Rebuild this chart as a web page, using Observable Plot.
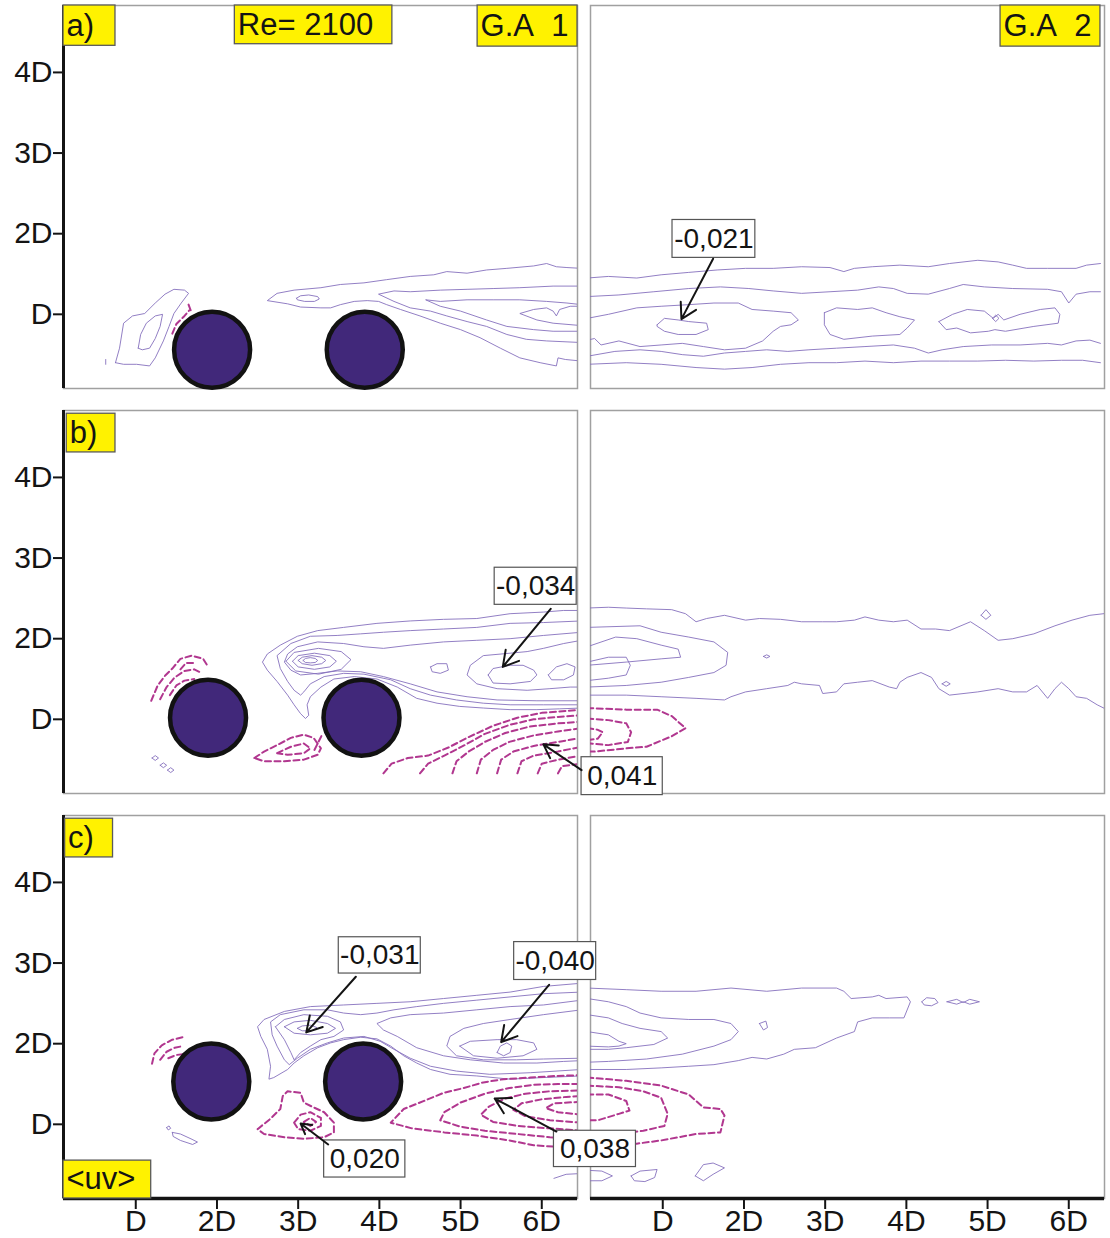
<!DOCTYPE html>
<html><head><meta charset="utf-8">
<script src="https://cdn.jsdelivr.net/npm/d3@7"></script>
<script src="https://cdn.jsdelivr.net/npm/@observablehq/plot@0.6"></script>
<style>
html,body{margin:0;padding:0;background:#fff;}
#chart{width:1110px;height:1238px;}
</style></head><body><div id="chart"></div>
<script>
// ---------------- DATA (positions in cylinder diameters D) ----------------
const tickValues = [1, 2, 3, 4, 5, 6];
const tickLabels = ["D", "2D", "3D", "4D", "5D", "6D"];
const yTickValues = [1, 2, 3, 4];
const rowKeys = ["a", "b", "c"];

// cylinders (left column, one row per configuration)
const cylinderX1 = [1.94, 1.89, 1.93];
const cylinderX2 = [3.82, 3.78, 3.80];
const cylinderY = [0.56, 1.02, 1.53];

// ---- row a, G.A 1 ----
const solidA1 = [
  [[0.75,0.40],[0.80,0.58],[0.85,0.89],[0.96,0.98],[1.11,1.01],[1.24,1.14],[1.36,1.25],[1.47,1.31],[1.60,1.30],[1.65,1.26],[1.56,1.14],[1.47,1.01],[1.41,0.85],[1.34,0.67],[1.24,0.46],[1.17,0.36],[1.01,0.38],[0.85,0.38],[0.75,0.40]],
  [[1.03,0.58],[1.06,0.75],[1.13,0.89],[1.24,0.98],[1.33,1.00],[1.30,0.85],[1.24,0.70],[1.17,0.58],[1.08,0.56],[1.03,0.58]],
  [[0.63,0.38],[0.63,0.44]],
  [[6.49,1.57],[6.31,1.58],[6.18,1.59],[6.06,1.63],[5.90,1.60],[5.57,1.57],[5.32,1.55],[5.08,1.51],[4.83,1.53],[4.67,1.49],[4.38,1.47],[4.09,1.43],[3.81,1.39],[3.52,1.37],[3.28,1.33],[2.95,1.30],[2.74,1.26],[2.62,1.17],[2.87,1.13],[3.03,1.09],[3.28,1.08],[3.40,1.08],[3.52,1.12],[3.69,1.16],[3.85,1.17],[3.99,1.16],[4.09,1.12],[4.26,1.06],[4.50,0.98],[4.75,0.89],[5.00,0.81],[5.24,0.71],[5.49,0.58],[5.73,0.46],[5.98,0.40],[6.18,0.36],[6.20,0.46],[6.29,0.44],[6.49,0.42]],
  [[6.49,1.35],[6.14,1.35],[5.73,1.33],[5.41,1.32],[5.08,1.31],[4.75,1.30],[4.38,1.28],[4.18,1.29],[3.99,1.25],[4.18,1.16],[4.38,1.08],[4.63,1.04],[4.83,0.98],[5.08,0.91],[5.32,0.85],[5.57,0.75],[5.81,0.69],[6.06,0.67],[6.49,0.65]],
  [[6.49,1.12],[6.31,1.14],[6.06,1.16],[5.73,1.18],[5.41,1.18],[5.08,1.18],[4.75,1.16],[4.57,1.18],[4.75,1.10],[5.00,1.04],[5.32,0.93],[5.57,0.85],[5.90,0.81],[6.14,0.79],[6.49,0.79]],
  [[6.49,1.10],[6.35,1.10],[6.22,1.06],[6.18,0.98],[6.14,1.04],[6.06,1.08],[5.90,1.06],[5.73,1.01],[5.94,0.93],[6.14,0.89],[6.49,0.86]],
  [[2.98,1.20],[3.03,1.23],[3.13,1.24],[3.24,1.22],[3.26,1.19],[3.20,1.16],[3.08,1.16],[2.99,1.18],[2.98,1.20]]
];
const dashedA1 = [
  [[1.45,0.76],[1.50,0.88],[1.60,0.98],[1.66,1.05]],
  [[1.53,0.78],[1.58,0.88],[1.66,0.94]],
  [[1.65,1.12],[1.68,1.04]]
];
// ---- row a, G.A 2 ----
const solidA2 = [
  [[0.07,1.45],[0.33,1.47],[0.68,1.45],[0.98,1.49],[1.32,1.52],[1.67,1.55],[2.02,1.57],[2.36,1.57],[2.71,1.59],[3.06,1.58],[3.23,1.53],[3.36,1.57],[3.58,1.59],[3.92,1.61],[4.27,1.59],[4.53,1.63],[4.88,1.67],[5.13,1.65],[5.31,1.61],[5.48,1.57],[5.74,1.57],[6.09,1.57],[6.22,1.61],[6.39,1.63]],
  [[0.07,1.22],[0.46,1.24],[0.89,1.28],[1.32,1.32],[1.71,1.34],[2.06,1.32],[2.36,1.29],[2.71,1.26],[3.06,1.28],[3.40,1.30],[3.66,1.34],[3.84,1.32],[4.01,1.26],[4.27,1.25],[4.53,1.32],[4.70,1.37],[4.96,1.34],[5.31,1.32],[5.74,1.31],[5.91,1.28],[6.00,1.14],[6.09,1.25],[6.26,1.28],[6.39,1.28]],
  [[0.07,0.95],[0.33,1.00],[0.68,1.08],[0.98,1.10],[1.32,1.12],[1.63,1.14],[1.93,1.14],[2.10,1.06],[2.36,1.04],[2.58,1.02],[2.67,0.93],[2.58,0.87],[2.45,0.85],[2.36,0.79],[2.23,0.67],[2.02,0.58],[1.76,0.56],[1.50,0.60],[1.24,0.64],[0.98,0.62],[0.72,0.60],[0.46,0.67],[0.24,0.62],[0.16,0.70],[0.07,0.68]],
  [[0.93,0.87],[1.02,0.95],[1.19,0.93],[1.32,0.91],[1.54,0.89],[1.56,0.81],[1.41,0.75],[1.19,0.75],[1.02,0.79],[0.93,0.85],[0.93,0.87]],
  [[2.99,1.02],[3.14,1.08],[3.40,1.06],[3.58,1.08],[3.75,1.02],[3.92,0.97],[4.10,0.93],[4.01,0.83],[3.92,0.75],[3.58,0.73],[3.23,0.69],[3.06,0.75],[2.99,0.87],[2.99,1.02]],
  [[4.40,0.91],[4.57,1.00],[4.75,1.06],[4.96,1.04],[5.07,0.95],[5.13,1.00],[5.20,0.93],[5.40,1.00],[5.65,1.06],[5.83,1.08],[5.89,1.00],[5.87,0.89],[5.57,0.85],[5.22,0.79],[5.09,0.81],[5.01,0.79],[4.79,0.77],[4.62,0.83],[4.49,0.81],[4.40,0.91]],
  [[5.06,0.95],[5.10,0.99],[5.14,0.95],[5.10,0.91],[5.06,0.95]],
  [[0.07,0.48],[0.41,0.54],[0.72,0.56],[0.98,0.54],[1.24,0.50],[1.50,0.48],[1.76,0.52],[2.02,0.54],[2.28,0.56],[2.54,0.54],[2.80,0.56],[3.14,0.58],[3.49,0.60],[3.84,0.62],[4.10,0.58],[4.27,0.52],[4.44,0.56],[4.70,0.60],[5.05,0.62],[5.40,0.62],[5.74,0.64],[5.91,0.62],[6.09,0.67],[6.26,0.68],[6.39,0.64]],
  [[0.07,0.38],[0.55,0.40],[0.98,0.38],[1.41,0.34],[1.76,0.32],[2.10,0.34],[2.45,0.38],[2.80,0.40],[3.14,0.40],[3.49,0.42],[3.84,0.40],[4.18,0.42],[4.53,0.42],[4.88,0.42],[5.22,0.43],[5.57,0.42],[5.91,0.43],[6.17,0.43],[6.39,0.40]]
];
const dashedA2 = [];

// ---- row b, G.A 1 ----
const solidB1 = [
  [[6.49,2.35],[6.27,2.35],[6.02,2.33],[5.61,2.31],[5.20,2.25],[4.79,2.24],[4.38,2.22],[3.97,2.19],[3.56,2.14],[3.24,2.10],[2.99,2.03],[2.78,1.92],[2.62,1.81],[2.56,1.71],[2.62,1.61],[2.74,1.47],[2.87,1.30],[2.95,1.18],[3.03,1.07],[3.09,1.01],[3.13,1.05],[3.11,1.18],[3.15,1.28],[3.28,1.40],[3.44,1.50],[3.69,1.53],[3.97,1.50],[4.22,1.40],[4.46,1.26],[4.71,1.20],[4.99,1.16],[5.28,1.14],[5.61,1.12],[5.94,1.12],[6.22,1.13],[6.49,1.14]],
  [[6.49,2.22],[6.02,2.20],[5.61,2.19],[5.20,2.14],[4.79,2.12],[4.38,2.10],[4.05,2.08],[3.77,2.06],[3.48,2.04],[3.15,2.03],[2.91,1.94],[2.74,1.79],[2.78,1.63],[2.87,1.47],[2.95,1.36],[3.03,1.30],[3.07,1.34],[3.15,1.44],[3.32,1.53],[3.56,1.57],[3.81,1.56],[4.14,1.49],[4.38,1.38],[4.63,1.30],[4.95,1.24],[5.28,1.20],[5.61,1.18],[6.02,1.18],[6.49,1.18]],
  [[6.49,2.08],[6.02,2.04],[5.61,2.00],[5.20,1.98],[4.79,1.96],[4.38,1.92],[4.05,1.88],[3.81,1.90],[3.56,1.94],[3.24,1.96],[2.99,1.90],[2.87,1.81],[2.83,1.71],[2.91,1.61],[3.03,1.55],[3.24,1.57],[3.48,1.60],[3.77,1.59],[4.05,1.53],[4.38,1.44],[4.71,1.34],[5.08,1.28],[5.45,1.24],[5.94,1.23],[6.49,1.23]],
  [[6.49,1.98],[6.27,1.94],[6.02,1.88],[5.82,1.84],[5.61,1.82],[5.28,1.79],[5.12,1.67],[5.08,1.55],[5.20,1.44],[5.45,1.38],[5.82,1.36],[6.10,1.38],[6.35,1.40],[6.49,1.40]],
  [[5.34,1.55],[5.40,1.63],[5.61,1.67],[5.77,1.67],[5.90,1.61],[5.94,1.55],[5.86,1.47],[5.61,1.44],[5.40,1.45],[5.34,1.55]],
  [[6.08,1.55],[6.18,1.65],[6.31,1.69],[6.41,1.65],[6.39,1.55],[6.27,1.49],[6.12,1.49],[6.08,1.55]],
  [[4.63,1.65],[4.71,1.69],[4.83,1.69],[4.85,1.61],[4.75,1.57],[4.65,1.59],[4.63,1.65]],
  [[3.06,1.73],[3.09,1.755],[3.15,1.765],[3.21,1.755],[3.24,1.73],[3.21,1.705],[3.15,1.70],[3.09,1.705],[3.06,1.73]],
  [[3.00,1.73],[3.05,1.77],[3.17,1.79],[3.29,1.77],[3.34,1.73],[3.29,1.69],[3.17,1.67],[3.05,1.69],[3.00,1.73]],
  [[2.93,1.72],[3.00,1.79],[3.20,1.82],[3.39,1.79],[3.47,1.72],[3.39,1.65],[3.20,1.62],[3.00,1.65],[2.93,1.72]],
  [[2.85,1.72],[2.95,1.83],[3.25,1.88],[3.53,1.84],[3.65,1.74],[3.53,1.62],[3.25,1.56],[2.97,1.60],[2.85,1.72]],
  [[1.20,0.52],[1.24,0.55],[1.28,0.52],[1.24,0.49],[1.20,0.52]],
  [[1.30,0.43],[1.34,0.46],[1.38,0.43],[1.34,0.40],[1.30,0.43]],
  [[1.39,0.37],[1.43,0.40],[1.47,0.37],[1.43,0.34],[1.39,0.37]]
];
const dashedB1 = [
  [[1.19,1.23],[1.27,1.42],[1.36,1.54],[1.45,1.63],[1.55,1.75],[1.69,1.79],[1.83,1.75],[1.88,1.67]],
  [[1.30,1.25],[1.38,1.40],[1.48,1.52],[1.60,1.60],[1.72,1.62],[1.80,1.58]],
  [[1.42,1.30],[1.50,1.42],[1.60,1.48],[1.72,1.50]],
  [[1.55,1.62],[1.62,1.70],[1.72,1.70]],
  [[2.46,0.52],[2.58,0.60],[2.74,0.68],[2.91,0.77],[3.07,0.81],[3.19,0.77],[3.28,0.64],[3.24,0.56],[3.07,0.50],[2.83,0.48],[2.58,0.48],[2.46,0.52]],
  [[2.74,0.58],[2.91,0.66],[3.07,0.70],[3.15,0.64],[3.07,0.58],[2.87,0.56],[2.74,0.58]],
  [[3.20,0.62],[3.25,0.72],[3.30,0.82]],
  [[4.05,0.33],[4.15,0.45],[4.35,0.52],[4.60,0.55],[4.85,0.65],[5.10,0.78],[5.40,0.92],[5.70,1.02],[6.00,1.08],[6.49,1.12]],
  [[4.50,0.33],[4.60,0.45],[4.80,0.55],[5.05,0.68],[5.30,0.82],[5.60,0.93],[5.90,1.00],[6.20,1.03],[6.49,1.05]],
  [[4.90,0.33],[4.95,0.48],[5.10,0.60],[5.30,0.72],[5.55,0.83],[5.85,0.91],[6.20,0.95],[6.49,0.97]],
  [[5.20,0.33],[5.25,0.50],[5.40,0.62],[5.60,0.72],[5.90,0.80],[6.20,0.85],[6.49,0.89]],
  [[5.45,0.33],[5.50,0.50],[5.65,0.60],[5.90,0.67],[6.20,0.72],[6.49,0.77]],
  [[5.70,0.33],[5.75,0.48],[5.90,0.55],[6.20,0.60],[6.49,0.66]],
  [[5.95,0.33],[6.00,0.45],[6.20,0.50],[6.49,0.55]],
  [[6.20,0.33],[6.25,0.42],[6.49,0.45]]
];
// ---- row b, G.A 2 ----
const solidB2 = [
  [[0.07,2.38],[0.33,2.39],[0.55,2.38],[0.80,2.37],[1.11,2.36],[1.28,2.31],[1.41,2.21],[1.54,2.25],[1.76,2.29],[2.02,2.23],[2.19,2.25],[2.45,2.24],[2.71,2.21],[2.97,2.21],[3.14,2.21],[3.36,2.23],[3.49,2.27],[3.66,2.23],[3.84,2.21],[4.01,2.23],[4.18,2.12],[4.36,2.12],[4.53,2.10],[4.79,2.21],[4.96,2.10],[5.13,1.98],[5.31,2.00],[5.57,2.06],[5.83,2.16],[6.04,2.23],[6.26,2.29],[6.43,2.31]],
  [[0.07,1.30],[0.55,1.30],[0.98,1.28],[1.41,1.26],[1.76,1.24],[1.84,1.28],[2.02,1.34],[2.28,1.38],[2.54,1.42],[2.62,1.46],[2.71,1.44],[2.93,1.42],[2.97,1.32],[3.14,1.34],[3.23,1.44],[3.40,1.46],[3.58,1.48],[3.79,1.40],[3.88,1.38],[3.92,1.46],[4.01,1.52],[4.18,1.58],[4.31,1.52],[4.40,1.38],[4.53,1.30],[4.88,1.34],[5.13,1.38],[5.31,1.34],[5.48,1.34],[5.61,1.42],[5.74,1.26],[5.83,1.38],[5.91,1.46],[6.00,1.38],[6.09,1.28],[6.22,1.26],[6.35,1.18],[6.43,1.14]],
  [[0.07,2.14],[0.72,2.16],[0.98,2.08],[1.32,2.02],[1.63,1.96],[1.80,1.83],[1.78,1.67],[1.63,1.58],[1.32,1.52],[0.98,1.46],[0.55,1.42],[0.07,1.40]],
  [[0.07,1.90],[0.42,2.02],[0.68,2.00],[0.98,1.92],[1.19,1.87],[1.22,1.77],[0.98,1.75],[0.55,1.71],[0.07,1.67]],
  [[0.07,1.71],[0.33,1.77],[0.55,1.77],[0.60,1.67],[0.55,1.55],[0.33,1.51],[0.07,1.48]],
  [[4.92,2.29],[4.98,2.36],[5.04,2.29],[4.98,2.24],[4.92,2.29]],
  [[2.24,1.78],[2.28,1.80],[2.32,1.78],[2.28,1.76],[2.24,1.78]],
  [[4.44,1.44],[4.49,1.47],[4.54,1.44],[4.49,1.41],[4.44,1.44]]
];
const dashedB2 = [
  [[0.07,1.14],[0.55,1.12],[0.93,1.12],[1.11,1.04],[1.28,0.89],[1.11,0.79],[0.80,0.66],[0.55,0.64],[0.16,0.60],[0.07,0.60]],
  [[0.07,1.01],[0.33,0.99],[0.55,0.95],[0.61,0.84],[0.57,0.72],[0.33,0.68],[0.11,0.70],[0.07,0.70]],
  [[0.07,0.89],[0.20,0.87],[0.26,0.84],[0.20,0.76],[0.07,0.74]]
];

// ---- row c, G.A 1 ----
const solidC1 = [
  [[6.49,2.75],[6.02,2.71],[5.61,2.64],[5.20,2.60],[4.79,2.56],[4.38,2.52],[3.97,2.50],[3.56,2.48],[3.15,2.46],[2.83,2.40],[2.58,2.30],[2.50,2.21],[2.54,2.09],[2.62,1.93],[2.66,1.72],[2.64,1.56],[2.70,1.58],[2.87,1.68],[2.95,1.76],[3.07,1.85],[3.24,1.95],[3.40,2.01],[3.56,2.05],[3.77,2.08],[3.97,2.06],[4.14,1.97],[4.30,1.85],[4.46,1.76],[4.63,1.68],[4.87,1.62],[5.20,1.60],[5.61,1.56],[6.02,1.58],[6.49,1.60]],
  [[6.49,2.64],[6.02,2.62],[5.61,2.58],[5.20,2.54],[4.79,2.50],[4.46,2.46],[4.18,2.42],[3.97,2.38],[3.77,2.36],[3.56,2.38],[3.36,2.42],[3.07,2.42],[2.78,2.36],[2.66,2.27],[2.68,2.11],[2.74,1.97],[2.83,1.80],[2.89,1.74],[2.99,1.82],[3.15,1.93],[3.36,2.01],[3.56,2.07],[3.81,2.09],[4.01,2.03],[4.18,1.93],[4.38,1.82],[4.63,1.72],[4.95,1.66],[5.36,1.62],[5.86,1.64],[6.49,1.68]],
  [[6.49,2.54],[6.02,2.48],[5.61,2.46],[5.20,2.42],[4.79,2.38],[4.38,2.36],[4.14,2.32],[3.97,2.25],[4.05,2.17],[4.22,2.09],[4.46,1.95],[4.79,1.85],[5.12,1.80],[5.53,1.76],[5.94,1.76],[6.27,1.78],[6.49,1.79]],
  [[6.49,2.42],[6.02,2.36],[5.61,2.30],[5.28,2.25],[5.04,2.19],[4.87,2.09],[4.83,1.97],[4.95,1.85],[5.28,1.80],[5.69,1.80],[6.02,1.81],[6.49,1.82]],
  [[4.99,1.97],[5.12,2.03],[5.45,2.05],[5.69,2.05],[5.90,2.01],[5.94,1.93],[5.77,1.85],[5.45,1.82],[5.16,1.85],[4.99,1.97]],
  [[5.45,1.89],[5.49,1.97],[5.57,2.01],[5.63,1.97],[5.61,1.89],[5.53,1.85],[5.45,1.89]],
  [[2.99,2.19],[3.05,2.22],[3.15,2.23],[3.23,2.20],[3.17,2.16],[3.05,2.16],[2.99,2.19]],
  [[2.83,2.21],[2.95,2.27],[3.15,2.29],[3.36,2.25],[3.46,2.19],[3.36,2.13],[3.15,2.11],[2.95,2.13],[2.83,2.21]],
  [[2.72,2.21],[2.83,2.30],[3.07,2.36],[3.36,2.34],[3.52,2.27],[3.56,2.17],[3.44,2.09],[3.28,2.05],[3.15,1.97],[3.03,1.89],[2.95,1.80],[2.91,1.89],[2.83,2.05],[2.72,2.21]],
  [[1.45,0.90],[1.55,0.88],[1.68,0.82],[1.76,0.78],[1.70,0.75],[1.55,0.80],[1.46,0.85],[1.45,0.90]],
  [[1.38,0.96],[1.41,0.98],[1.43,0.95],[1.40,0.93],[1.38,0.96]],
  [[6.15,0.33],[6.30,0.38],[6.49,0.39]]
];
const dashedC1 = [
  [[1.20,1.75],[1.23,1.88],[1.32,1.98],[1.45,2.05],[1.58,2.08]],
  [[1.30,1.80],[1.38,1.90],[1.48,1.95],[1.58,1.97]],
  [[1.40,1.82],[1.50,1.86],[1.58,1.87]],
  [[2.50,0.94],[2.66,1.07],[2.78,1.19],[2.81,1.35],[2.87,1.41],[3.03,1.39],[3.07,1.27],[3.19,1.21],[3.32,1.15],[3.44,1.02],[3.44,0.90],[3.32,0.84],[3.07,0.82],[2.83,0.84],[2.58,0.88],[2.50,0.94]],
  [[2.95,1.02],[3.03,1.12],[3.15,1.15],[3.28,1.08],[3.28,0.98],[3.15,0.92],[3.00,0.94],[2.95,1.02]],
  [[3.07,1.03],[3.15,1.08],[3.22,1.03],[3.15,0.98],[3.07,1.03]],
  [[6.49,0.72],[6.20,0.72],[5.90,0.74],[5.60,0.80],[5.20,0.86],[4.80,0.90],[4.40,0.95],[4.14,1.02],[4.30,1.19],[4.55,1.29],[4.79,1.39],[5.04,1.45],[5.28,1.52],[5.53,1.56],[5.86,1.58],[6.18,1.60],[6.49,1.61]],
  [[6.49,0.82],[6.10,0.84],[5.70,0.88],[5.30,0.92],[5.00,0.97],[4.75,1.05],[4.80,1.15],[5.00,1.27],[5.30,1.38],[5.60,1.45],[5.90,1.49],[6.20,1.50],[6.49,1.50]],
  [[6.49,0.92],[6.10,0.95],[5.70,0.98],[5.40,1.03],[5.25,1.12],[5.35,1.22],[5.55,1.32],[5.80,1.38],[6.10,1.41],[6.49,1.42]],
  [[6.49,1.02],[6.10,1.05],[5.80,1.10],[5.65,1.18],[5.75,1.26],[6.00,1.31],[6.30,1.34],[6.49,1.35]],
  [[6.49,1.12],[6.20,1.15],[6.05,1.20],[6.15,1.26],[6.49,1.28]]
];
// ---- row c, G.A 2 ----
const solidC2 = [
  [[0.07,2.69],[0.55,2.67],[0.98,2.65],[1.41,2.65],[1.84,2.69],[2.28,2.65],[2.71,2.69],[3.14,2.69],[3.23,2.65],[3.32,2.56],[3.58,2.58],[3.66,2.60],[3.75,2.56],[4.01,2.58],[4.05,2.52],[3.97,2.32],[3.79,2.32],[3.58,2.32],[3.40,2.27],[3.36,2.15],[3.14,2.07],[2.88,1.95],[2.62,1.93],[2.49,1.87],[2.28,1.81],[2.10,1.83],[1.93,1.79],[1.63,1.74],[1.32,1.72],[0.98,1.70],[0.55,1.68],[0.07,1.68]],
  [[0.07,2.56],[0.33,2.52],[0.55,2.46],[0.72,2.38],[0.98,2.32],[1.32,2.30],[1.63,2.30],[1.84,2.25],[1.93,2.15],[1.84,2.05],[1.63,1.97],[1.24,1.87],[0.80,1.81],[0.33,1.78],[0.07,1.77]],
  [[0.07,2.36],[0.33,2.32],[0.50,2.25],[0.72,2.19],[0.98,2.15],[1.06,2.07],[0.89,1.99],[0.55,1.95],[0.33,1.93],[0.07,1.93]],
  [[0.07,2.15],[0.33,2.11],[0.46,2.03],[0.55,2.00],[0.46,1.97],[0.33,1.96],[0.07,1.97]],
  [[4.19,2.52],[4.25,2.57],[4.35,2.56],[4.39,2.51],[4.31,2.47],[4.22,2.48],[4.19,2.52]],
  [[4.50,2.52],[4.62,2.55],[4.70,2.51],[4.78,2.55],[4.90,2.52],[4.78,2.49],[4.70,2.52],[4.62,2.49],[4.50,2.52]],
  [[2.19,2.25],[2.27,2.28],[2.29,2.20],[2.24,2.17],[2.19,2.25]],
  [[0.07,0.43],[0.25,0.42],[0.38,0.36],[0.25,0.30],[0.07,0.30]],
  [[0.61,0.36],[0.72,0.42],[0.93,0.44],[0.90,0.34],[0.78,0.29],[0.65,0.30],[0.61,0.36]],
  [[1.40,0.36],[1.50,0.50],[1.62,0.52],[1.76,0.46],[1.62,0.38],[1.50,0.30],[1.40,0.36]]
];
const dashedC2 = [
  [[0.07,1.58],[0.55,1.54],[0.98,1.48],[1.32,1.37],[1.50,1.21],[1.71,1.19],[1.76,1.11],[1.71,0.90],[1.41,0.88],[0.98,0.80],[0.68,0.76],[0.20,0.80],[0.07,0.80]],
  [[0.07,1.48],[0.46,1.46],[0.76,1.41],[0.98,1.33],[1.06,1.13],[1.02,0.98],[0.76,0.92],[0.46,0.88],[0.07,0.88]],
  [[0.07,1.37],[0.33,1.37],[0.55,1.29],[0.59,1.17],[0.46,1.13],[0.20,1.05],[0.07,1.05]]
];

// panel tags (yellow boxes)
const tagText = ["a)", "Re= 2100", "G.A\u00a0\u00a01", "G.A\u00a0\u00a02", "b)", "c)", "<uv>"];
const tagCol  = ["1", "1", "1", "2", "1", "1", "1"];
const tagRow  = ["a", "a", "a", "a", "b", "c", "c"];
const tagX1   = [0.11, 2.22, 5.21, 5.16, 0.15, 0.13, 0.11];
const tagX2   = [0.75, 4.16, 6.44, 6.39, 0.75, 0.72, 1.19];
const tagY1   = [4.33, 4.35, 4.32, 4.32, 4.31, 4.31, 0.08];
const tagY2   = [4.83, 4.83, 4.83, 4.83, 4.79, 4.79, 0.55];

// extreme-value callouts
const noteText = ["-0,021", "-0,034", "0,041", "-0,031", "-0,040", "0,020", "0,038"];
const noteCol  = ["2", "1", "1", "1", "1", "1", "1"];
const noteRow  = ["a", "b", "b", "c", "c", "c", "c"];
const noteBoxX1 = [1.12, 5.42, 6.49, 3.50, 5.66, 3.32, 6.15];
const noteBoxX2 = [2.14, 6.43, 7.49, 4.51, 6.67, 4.32, 7.16];
const noteBoxY1 = [1.70, 2.42, 0.06, 2.87, 2.79, 0.34, 0.47];
const noteBoxY2 = [2.17, 2.88, 0.53, 3.32, 3.26, 0.80, 0.92];
const noteFromX = [1.62, 6.11, 6.49, 3.71, 6.09, 3.37, 6.18];
const noteFromY = [1.69, 2.37, 0.37, 2.83, 2.73, 0.75, 0.91];
const noteToX   = [1.23, 5.52, 6.02, 3.10, 5.50, 3.03, 5.42];
const noteToY   = [0.94, 1.65, 0.69, 2.14, 2.02, 1.01, 1.32];

// ---------------- TABLES ----------------
function toRows(lines, fx, fy) {
  return lines.flatMap((pts, i) => pts.map(([x, y]) => ({fx, fy, id: fx + fy + i, x, y})));
}
const solidRows = [
  ...toRows(solidA1, "1", "a"), ...toRows(solidA2, "2", "a"),
  ...toRows(solidB1, "1", "b"), ...toRows(solidB2, "2", "b"),
  ...toRows(solidC1, "1", "c"), ...toRows(solidC2, "2", "c")
];
const dashedRows = [
  ...toRows(dashedA1, "1", "a"), ...toRows(dashedA2, "2", "a"),
  ...toRows(dashedB1, "1", "b"), ...toRows(dashedB2, "2", "b"),
  ...toRows(dashedC1, "1", "c"), ...toRows(dashedC2, "2", "c")
];
const cylinders = rowKeys.flatMap((fy, i) => [
  {fx: "1", fy, x: cylinderX1[i], y: cylinderY[i]},
  {fx: "1", fy, x: cylinderX2[i], y: cylinderY[i]}
]);
const tags = tagText.map((t, i) => ({text: t, fx: tagCol[i], fy: tagRow[i], x1: tagX1[i], x2: tagX2[i], y1: tagY1[i], y2: tagY2[i]}));
const notes = noteText.map((t, i) => ({text: t, fx: noteCol[i], fy: noteRow[i],
  bx1: noteBoxX1[i], bx2: noteBoxX2[i], by1: noteBoxY1[i], by2: noteBoxY2[i],
  ax1: noteFromX[i], ay1: noteFromY[i], ax2: noteToX[i], ay2: noteToY[i]}));

const xDomain = [0.11, 6.44];
const yDomain = [0.08, 4.83];
const leftEdges = rowKeys.map(fy => ({fx: "1", fy}));
const bottomEdges = [{fx: "1", fy: "c"}, {fx: "2", fy: "c"}];
const fmt = v => tickLabels[tickValues.indexOf(v)];

const font = '"Liberation Sans", Arial, Helvetica, sans-serif';

const chart = Plot.plot({
  width: 1110,
  height: 1238,
  marginLeft: 63,
  marginRight: 6,
  marginTop: 5,
  marginBottom: 40,
  style: {fontFamily: font, background: "#fff", color: "#141414"},
  x: {domain: xDomain},
  y: {domain: yDomain},
  fx: {domain: ["1", "2"], paddingInner: 26 / 1054, paddingOuter: 0, axis: null},
  fy: {domain: rowKeys, paddingInner: 22 / 405, paddingOuter: 0, axis: null},
  marks: [
    Plot.frame({stroke: "#a0a0a0", strokeWidth: 1.5}),
    Plot.line(solidRows, {x: "x", y: "y", z: "id", fx: "fx", fy: "fy", stroke: "#8670bd", strokeWidth: 0.9, clip: true}),
    Plot.line(dashedRows, {x: "x", y: "y", z: "id", fx: "fx", fy: "fy", stroke: "#b1378f", strokeWidth: 2, strokeDasharray: "6,3.5", clip: true}),
    Plot.dot(cylinders, {x: "x", y: "y", fx: "fx", fy: "fy", r: 38, fill: "#41287a", stroke: "#121212", strokeWidth: 4.5}),
    Plot.ruleX(leftEdges, {x: () => xDomain[0], fx: "fx", fy: "fy", stroke: "#141414", strokeWidth: 3}),
    Plot.ruleY(bottomEdges, {y: () => yDomain[0], fx: "fx", fy: "fy", stroke: "#141414", strokeWidth: 3.5}),
    Plot.axisY(yTickValues, {anchor: "left", tickFormat: fmt, tickSize: 10, tickPadding: 1, fontSize: 30, strokeWidth: 2, label: null}),
    Plot.axisX(tickValues, {anchor: "bottom", tickFormat: fmt, tickSize: 11, tickPadding: 0, fontSize: 30, strokeWidth: 2, label: null}),
    Plot.rect(tags, {x1: "x1", x2: "x2", y1: "y1", y2: "y2", fx: "fx", fy: "fy", fill: "#fff200", stroke: "#5a5a5a", strokeWidth: 1.3}),
    Plot.text(tags, {x: "x1", y: d => (d.y1 + d.y2) / 2, text: "text", fx: "fx", fy: "fy", textAnchor: "start", dx: 3, fontSize: 31, fill: "#141414"}),
    Plot.rect(notes, {x1: "bx1", x2: "bx2", y1: "by1", y2: "by2", fx: "fx", fy: "fy", fill: "#fff", stroke: "#555", strokeWidth: 1.2}),
    Plot.text(notes, {x: d => (d.bx1 + d.bx2) / 2, y: d => (d.by1 + d.by2) / 2, text: "text", fx: "fx", fy: "fy", fontSize: 28, fill: "#141414"}),
    Plot.arrow(notes, {x1: "ax1", y1: "ay1", x2: "ax2", y2: "ay2", fx: "fx", fy: "fy", stroke: "#141414", strokeWidth: 2, headLength: 13})
  ]
});
document.getElementById("chart").appendChild(chart);
</script>
</body></html>
